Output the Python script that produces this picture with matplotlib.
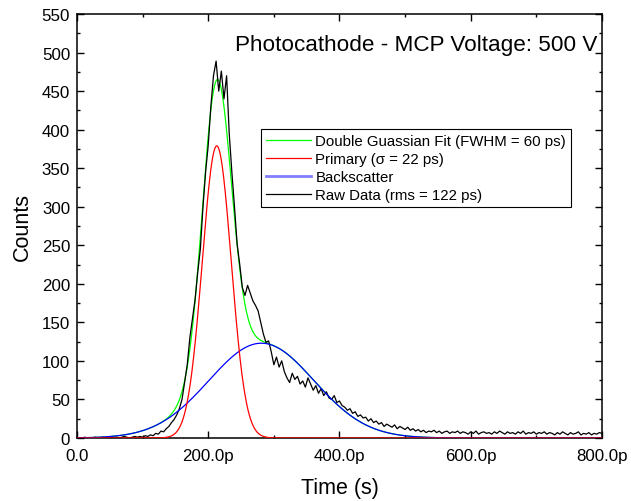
import numpy as np
import matplotlib.pyplot as plt
from matplotlib.lines import Line2D
from matplotlib.ticker import MultipleLocator, FuncFormatter

plt.rcParams['font.family'] = ['Liberation Sans', 'DejaVu Sans']

# raw histogram, 4 ps bins (ps, counts)
raw_t = np.arange(0, 804, 4)
raw_counts = [
    0, 0, 0, 1, 0, 0, 0, 1, 0, 0, 1, 0, 0, 1, 0, 1,          # 0 - 60
    0, 1, 2, 1, 0, 1, 2, 1, 2, 1,                              # 64 - 100
    3, 2, 4, 3, 6, 5, 9, 8, 12, 15, 20, 24, 30, 38,            # 104 - 156
    50, 72, 95, 130, 155, 180, 215, 245, 300, 345, 380, 430, 470,  # 160 - 208
    489, 450, 476, 440, 470, 395, 345, 300, 252, 225,          # 212 - 248
    195, 185, 198, 188, 178, 172, 165, 150, 135, 124,          # 252 - 288
    126, 112, 95, 105, 92, 100, 86, 78, 72, 84,                # 292 - 328
    76, 80, 70, 74, 66, 78, 70, 62, 68, 58,                    # 332 - 368
    64, 55, 60, 52, 50, 55, 46, 48, 42, 40,                    # 372 - 408
    36, 38, 32, 34, 28, 30, 26, 27, 22, 25,                    # 412 - 448
    20, 22, 18, 20, 15, 18, 16, 14, 17, 12,                    # 452 - 488
    15, 13, 11, 14, 10, 12, 9, 11, 8, 10,                      # 492 - 528
    7, 9, 8, 10, 7, 9, 6, 8, 9, 6,                             # 532 - 568
    8, 7, 9, 6, 8, 7, 5, 8, 6, 9,                              # 572 - 608
    5, 7, 8, 6, 7, 5, 8, 6, 9, 7,                              # 612 - 648
    5, 8, 6, 7, 5, 8, 6, 9, 5, 7,                              # 652 - 688
    6, 8, 5, 7, 6, 8, 5, 7, 6, 4,                              # 692 - 728
    7, 5, 8, 6, 4, 7, 5, 6, 8, 4,                              # 732 - 768
    6, 5, 7, 4, 6, 5, 7, 6,                                    # 772 - 800
]

# fitted gaussian parameters: amplitude, centre (ps), sigma (ps)
primary_fit = (379, 213, 22)
backscatter_fit = (123, 281, 80)

labels = ['Double Guassian Fit (FWHM = 60 ps)', 'Primary (\u03c3 = 22 ps)',
          'Backscatter', 'Raw Data (rms = 122 ps)']


def gauss(t, p):
    a, mu, s = p
    return a * np.exp(-(t - mu) ** 2 / (2 * s ** 2))


t = np.linspace(0, 800, 1601)
prim = gauss(t, primary_fit)
back = gauss(t, backscatter_fit)

fig = plt.figure(figsize=(6.31, 5.02), dpi=100)
ax = fig.add_axes([0.122, 0.1255, 0.832, 0.8445])

ax.plot(raw_t, raw_counts, color='black', lw=0.9, zorder=2)
ax.plot(t, back, color='#0000ff', lw=0.9, zorder=3)
ax.plot(t, prim, color='#ff0000', lw=0.9, zorder=3)
ax.plot(t, prim + back, color='#00ff00', lw=0.9, zorder=1)

ax.set_xlim(0, 800)
ax.set_ylim(0, 550)
ax.xaxis.set_major_locator(MultipleLocator(200))
ax.xaxis.set_minor_locator(MultipleLocator(100))
ax.yaxis.set_major_locator(MultipleLocator(50))
ax.yaxis.set_minor_locator(MultipleLocator(25))
ax.xaxis.set_major_formatter(FuncFormatter(lambda v, pos: '0.0' if v == 0 else '%.1fp' % v))
ax.tick_params(which='both', direction='in', top=True, right=True, labelsize=12.2, width=1)
ax.tick_params(which='major', length=5)
ax.tick_params(which='minor', length=2.5)
ax.tick_params(axis='x', pad=7)
ax.tick_params(axis='y', pad=5)
for sp in ax.spines.values():
    sp.set_linewidth(1.1)

ax.set_xlabel('Time (s)', fontsize=15.5, labelpad=10.5)
ax.set_ylabel('Counts', fontsize=15.5, labelpad=6)

ax.text(0.992, 0.928, 'Photocathode - MCP Voltage: 500 V', transform=ax.transAxes,
        ha='right', va='center', fontsize=16.2)

handles = [Line2D([], [], color='#00ff00', lw=0.9),
           Line2D([], [], color='#ff0000', lw=0.9),
           Line2D([], [], color='#7f7fff', lw=2),
           Line2D([], [], color='black', lw=0.9)]
leg = ax.legend(handles, labels, loc='upper left', bbox_to_anchor=(0.35, 0.729),
                fontsize=10.8, frameon=True, fancybox=False, edgecolor='black',
                framealpha=1, borderpad=0.35, labelspacing=0.26, handlelength=3.0,
                handletextpad=0.3, borderaxespad=0)
leg.get_frame().set_linewidth(0.8)

fig.savefig('out.png', dpi=100)
